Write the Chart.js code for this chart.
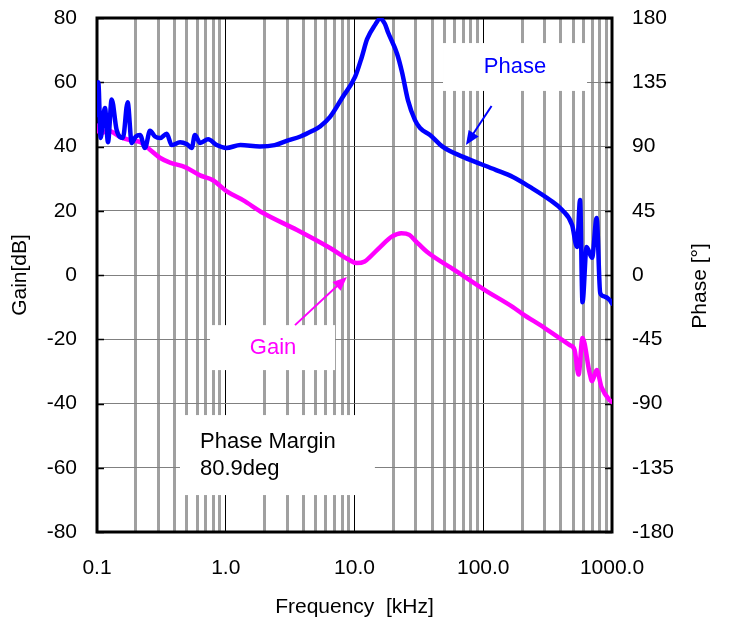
<!DOCTYPE html>
<html>
<head>
<meta charset="utf-8">
<script src="https://cdn.jsdelivr.net/npm/chart.js@4.4.1/dist/chart.umd.min.js"></script>
<style>
  html, body { margin: 0; padding: 0; background: #fff; }
  #wrap { width: 731px; height: 626px; }
</style>
</head>
<body>
<div id="wrap"><canvas id="bode"></canvas></div>
<script>
// gain curve (magenta), frequency in kHz
var gainFreq = [0.1, 0.1055, 0.122, 0.151, 0.18, 0.216, 0.258, 0.308, 0.369, 0.483, 0.632, 0.795, 1.02, 1.36, 1.95, 3.58, 6.46, 9, 10.4, 12, 13.1, 15.8, 19.6, 23.1, 26.7, 30, 36.5, 60, 103, 170, 200, 300, 470, 512, 550, 590, 670, 700, 760, 830, 960, 1000];
var gainVals = [46.5, 44, 45, 43, 42, 41.4, 39, 36.5, 35, 33.6, 31, 29.5, 26, 23.3, 19.3, 14, 8.4, 4.8, 3.7, 4.2, 5.5, 8.7, 12, 13, 12.5, 10.5, 7.2, 1.5, -4.7, -10, -12, -16.5, -21.8, -23.3, -31, -19.6, -30.5, -33, -29.6, -35, -39, -39.5];

// phase curve (blue)
var phaseFreq = [0.1, 0.1023, 0.1068, 0.1115, 0.1154, 0.1217, 0.130, 0.142, 0.159, 0.173, 0.186, 0.2, 0.216, 0.236, 0.258, 0.282, 0.31, 0.348, 0.38, 0.442, 0.5, 0.544, 0.576, 0.632, 0.73, 0.85, 1.01, 1.3, 1.84, 2.4, 2.97, 3.8, 4.72, 5.4, 6.46, 8.1, 10.1, 11.4, 12.5, 14.4, 15.8, 17.2, 18.2, 21.4, 23.4, 26, 29.5, 32.3, 38.6, 48.6, 69.7, 126, 170, 230, 330, 410, 490, 535, 565, 590, 635, 700, 760, 810, 870, 960, 1000];
var phaseVals = [112, 135, 96, 110, 117, 93, 123, 101.6, 96, 121, 92.5, 97, 98, 89, 101, 97, 96, 99, 91, 93, 91.5, 89, 98, 92.5, 95, 91, 89, 91, 90, 91, 94, 97, 101, 104, 110.7, 124.7, 138.7, 152.7, 165, 175, 179.5, 176, 170, 155, 142, 122.5, 108.5, 103, 98, 89.7, 82.7, 73.5, 68.6, 61.7, 52.5, 45.5, 35, 19.6, 52.5, -19, 19.6, 12, 40, -12.6, -15, -17.5, -20];

var xTickLabels = ['0.1', '1.0', '10.0', '100.0', '1000.0'];
var decades = [0.1, 1, 10, 100, 1000];

var FONT = 'Liberation Sans, Arial, sans-serif';

function toXY(xs, ys) {
    return xs.map(function (x, i) { return { x: x, y: ys[i] }; });
}

function isDecade(v) {
    var l = Math.log10(v);
    return Math.abs(l - Math.round(l)) < 1e-6;
}

// frame, inward ticks, right title and the text boxes
var extras = {
    id: 'extras',
    beforeDatasetsDraw: function (chart) {
        var c = chart.ctx, a = chart.chartArea;
        c.save();
        c.strokeStyle = '#000';
        c.lineWidth = 1.5;
        chart.scales.y.ticks.forEach(function (t) {
            var py = Math.round(chart.scales.y.getPixelForValue(t.value)) + 0.5;
            c.beginPath();
            c.moveTo(a.left, py); c.lineTo(a.left + 7, py);
            c.moveTo(a.right - 7, py); c.lineTo(a.right, py);
            c.stroke();
        });
        c.lineWidth = 3;
        c.strokeRect(a.left, a.top, a.right - a.left, a.bottom - a.top);

        // right axis title reads bottom to top like the left one
        c.translate(700, (a.top + a.bottom) / 2 + 11);
        c.rotate(-Math.PI / 2);
        c.font = '21px ' + FONT;
        c.fillStyle = '#000';
        c.textAlign = 'center'; c.textBaseline = 'middle';
        c.fillText('Phase [°]', 0, 0);
        c.restore();
    },
    afterDatasetsDraw: function (chart) {
        var c = chart.ctx;
        var xs = chart.scales.x, ys = chart.scales.y;
        var X = function (f) { return xs.getPixelForValue(f); };
        var Y = function (g) { return ys.getPixelForValue(g); };

        function box(f1, g1, f2, g2) {
            c.fillStyle = '#fff';
            c.fillRect(X(f1), Y(g1), X(f2) - X(f1), Y(g2) - Y(g1));
        }
        function arrow(f1, g1, f2, g2, col) {
            var x1 = X(f1), y1 = Y(g1), x2 = X(f2), y2 = Y(g2);
            var ang = Math.atan2(y2 - y1, x2 - x1);
            var hl = 14, hw = 6;
            c.strokeStyle = col; c.fillStyle = col; c.lineWidth = 2;
            c.beginPath();
            c.moveTo(x1, y1);
            c.lineTo(x2 - Math.cos(ang) * hl * 0.8, y2 - Math.sin(ang) * hl * 0.8);
            c.stroke();
            c.beginPath();
            c.moveTo(x2, y2);
            c.lineTo(x2 - Math.cos(ang) * hl - Math.sin(ang) * hw, y2 - Math.sin(ang) * hl + Math.cos(ang) * hw);
            c.lineTo(x2 - Math.cos(ang) * hl + Math.sin(ang) * hw, y2 - Math.sin(ang) * hl - Math.cos(ang) * hw);
            c.closePath();
            c.fill();
        }

        c.save();
        // Phase label
        box(48.7, 72.2, 640, 57.3);
        c.font = '22px ' + FONT;
        c.textAlign = 'center'; c.textBaseline = 'middle';
        c.fillStyle = '#0000ff';
        c.fillText('Phase', X(176.5), Y(64.7));
        arrow(116, 52.6, 73.4, 40.5, '#0000ff');

        // Gain label
        box(0.755, -15.6, 7.06, -29.6);
        c.fillStyle = '#ff00ff';
        c.fillText('Gain', X(2.33), Y(-22.7));
        arrow(3.45, -15.6, 8.73, -0.6, '#ff00ff');

        // phase margin box
        box(0.441, -43.6, 14.4, -68.5);
        c.fillStyle = '#000';
        c.textAlign = 'left'; c.textBaseline = 'alphabetic';
        c.fillText('Phase Margin', X(0.631), Y(-53.9));
        c.fillText('80.9deg', X(0.631), Y(-62.3));
        c.restore();
    }
};

function fixY(w) {
    return function (s) {
        s.width = w;
        s.paddingTop = 0;
        s.paddingBottom = 0;
    };
}

var ctx = document.getElementById('bode').getContext('2d');
var myChart = new Chart(ctx, {
    type: 'line',
    data: {
        datasets: [{
            label: 'Phase',
            data: toXY(phaseFreq, phaseVals),
            yAxisID: 'y1',
            borderColor: '#0000ff',
            borderWidth: 4.5,
            pointRadius: 0,
            cubicInterpolationMode: 'monotone',
            borderJoinStyle: 'round',
            borderCapStyle: 'round'
        }, {
            label: 'Gain',
            data: toXY(gainFreq, gainVals),
            yAxisID: 'y',
            borderColor: '#ff00ff',
            borderWidth: 4.5,
            pointRadius: 0,
            cubicInterpolationMode: 'monotone',
            borderJoinStyle: 'round',
            borderCapStyle: 'round'
        }]
    },
    options: {
        responsive: true,
        maintainAspectRatio: false,
        animation: false,
        events: [],
        layout: { padding: { top: 18, left: 0, right: 0, bottom: 0 } },
        plugins: { legend: { display: false }, tooltip: { enabled: false } },
        scales: {
            x: {
                type: 'logarithmic',
                min: 0.1,
                max: 1000,
                afterBuildTicks: function (s) {
                    var t = [];
                    decades.slice(0, 4).forEach(function (d) {
                        for (var m = 1; m < 10; m++) t.push({ value: Number((m * d).toPrecision(3)) });
                    });
                    t.push({ value: 1000 });
                    s.ticks = t;
                },
                afterFit: function (s) { s.height = 94; },
                border: { display: false },
                grid: {
                    drawTicks: false,
                    color: function (c) { return c.tick && isDecade(c.tick.value) ? '#000' : '#a0a0a0'; },
                    lineWidth: function (c) { return c.tick && isDecade(c.tick.value) ? 1 : 3; }
                },
                ticks: {
                    autoSkip: false,
                    maxRotation: 0,
                    padding: 24,
                    color: '#000',
                    font: { family: FONT, size: 21 },
                    callback: function (v) {
                        var i = decades.findIndex(function (d) { return Math.abs(d - v) < 1e-9; });
                        return i >= 0 ? xTickLabels[i] : '';
                    }
                },
                title: {
                    display: true,
                    text: 'Frequency  [kHz]',
                    color: '#000',
                    font: { family: FONT, size: 21 },
                    padding: { top: 6, bottom: 6 }
                }
            },
            y: {
                position: 'left',
                min: -80,
                max: 80,
                afterFit: fixY(97),
                border: { display: false },
                grid: {
                    drawTicks: false,
                    color: '#808080',
                    lineWidth: 1,
                    borderDash: [1, 1]
                },
                ticks: {
                    stepSize: 20,
                    padding: 20,
                    color: '#000',
                    font: { family: FONT, size: 21 }
                },
                title: {
                    display: true,
                    text: 'Gain[dB]',
                    color: '#000',
                    font: { family: FONT, size: 21 },
                    padding: { top: 8, bottom: 8 }
                }
            },
            y1: {
                position: 'right',
                min: -180,
                max: 180,
                afterFit: fixY(119),
                border: { display: false },
                grid: { display: false, drawTicks: false },
                ticks: {
                    stepSize: 45,
                    padding: 20,
                    color: '#000',
                    font: { family: FONT, size: 21 }
                }
            }
        }
    },
    plugins: [extras]
});
</script>
</body>
</html>
